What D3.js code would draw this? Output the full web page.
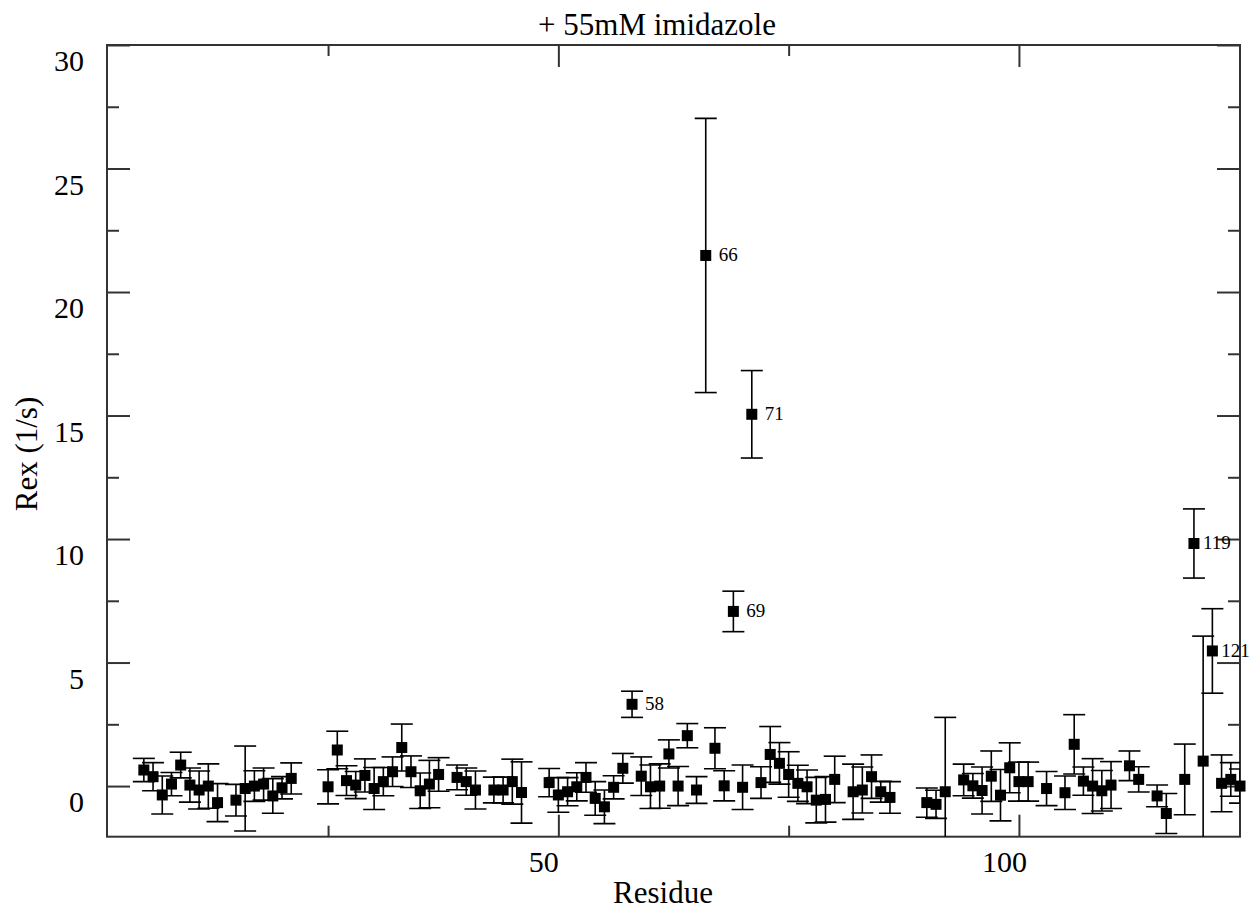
<!DOCTYPE html>
<html>
<head>
<meta charset="utf-8">
<script src="https://cdn.jsdelivr.net/npm/d3@7"></script>
<style>
  body { margin: 0; background: #fff; }
  text { font-family: "Liberation Serif", "DejaVu Serif", serif; fill: #000; }
</style>
</head>
<body>
<script>
// Rex per residue
const residues = [5, 6, 7, 8, 9, 10, 11, 12, 13, 15, 16, 17, 18, 19, 20, 21,
  25, 26, 27, 28, 29, 30, 31, 32, 33, 34, 35, 36, 37, 39, 40, 41, 43, 44, 45, 46,
  49, 50, 51, 52, 53, 54, 55, 56, 57, 58, 59, 60, 61, 62, 63, 64, 65, 66, 67, 68,
  69, 70, 71, 72, 73, 74, 75, 76, 77, 78, 79, 80, 82, 83, 84, 85, 86,
  90, 91, 92, 94, 95, 96, 97, 98, 99, 100, 101, 103, 105, 106, 107, 108, 109, 110,
  112, 113, 115, 116, 118, 119, 120, 121, 122, 123, 124];

const rex = [0.65, 0.38, -0.36, 0.08, 0.85, 0.04, -0.16, 0.0, -0.67, -0.57, -0.1, 0.0, 0.08, -0.4, -0.07, 0.31,
  -0.03, 1.46, 0.22, 0.04, 0.43, -0.1, 0.18, 0.58, 1.56, 0.58, -0.19, 0.08, 0.47, 0.35, 0.18, -0.16, -0.16, -0.16, 0.18, -0.26,
  0.14, -0.36, -0.23, -0.03, 0.35, -0.5, -0.84, -0.05, 0.72, 3.31, 0.4, -0.03, 0.0, 1.3, 0.0, 2.04, -0.16, 21.48, 1.53, 0.01,
  7.07, -0.05, 15.05, 0.14, 1.28, 0.92, 0.47, 0.11, -0.03, -0.57, -0.54, 0.27, -0.23, -0.16, 0.38, -0.23, -0.46,
  -0.67, -0.74, -0.23, 0.25, 0.01, -0.18, 0.4, -0.37, 0.74, 0.18, 0.18, -0.1, -0.27, 1.69, 0.2, 0.0, -0.19, 0.04,
  0.82, 0.27, -0.4, -1.11, 0.27, 9.82, 1.01, 5.47, 0.11, 0.27, 0.0];

const rexErr = [0.47, 0.57, 0.77, 0.47, 0.52, 0.69, 0.77, 0.9, 0.77, 0.64, 1.72, 0.62, 0.65, 0.7, 0.45, 0.63,
  0.69, 0.76, 0.6, 0.55, 0.67, 0.85, 0.57, 0.6, 0.95, 0.64, 0.72, 0.96, 0.68, 0.5, 0.55, 0.77, 0.52, 0.52, 0.91, 1.24,
  0.57, 0.7, 0.57, 0.57, 0.6, 0.68, 0.68, 0.47, 0.6, 0.53, 0.78, 0.88, 0.9, 0.57, 0.79, 0.49, 0.54, 5.55, 0.83, 0.61,
  0.82, 0.9, 1.77, 0.64, 1.13, 0.84, 0.92, 0.73, 0.68, 0.92, 0.92, 0.94, 1.12, 0.93, 0.88, 0.42, 0.64,
  0.59, 0.57, 3.01, 0.64, 0.5, 0.95, 1.02, 1.04, 1.01, 0.79, 0.79, 0.69, 0.68, 1.2, 0.57, 1.11, 0.82, 0.95,
  0.6, 0.51, 0.44, 0.81, 1.43, 1.4, 5.06, 1.71, 1.15, 0.68, 0.69];

const labelled = [58, 66, 69, 71, 119, 121];

const xMajor = [50, 100];
const xMinor = [25, 75];
const yMajor = [0, 5, 10, 15, 20, 25, 30];
const yMinor = [2.5, 7.5, 12.5, 17.5, 22.5, 27.5];

const W = 1250, H = 910;
const margin = { top: 45, right: 10, bottom: 73.3, left: 107 };
const innerW = W - margin.left - margin.right;
const innerH = H - margin.top - margin.bottom;

const data = residues.map((r, i) => ({ res: r, val: rex[i], err: rexErr[i] }));

const x = d3.scaleLinear().domain([1, 124]).range([0, innerW]);
const y = d3.scaleLinear().domain([-2.05, 30]).range([innerH, 0]);

const svg = d3.select("body").append("svg")
  .attr("width", W)
  .attr("height", H);

const g = svg.append("g").attr("transform", `translate(${margin.left},${margin.top})`);

g.append("clipPath").attr("id", "plotclip")
  .append("rect").attr("width", innerW).attr("height", innerH);

// inward ticks on all four sides
function styleAxis(sel) {
  sel.select(".domain").remove();
  sel.selectAll("line").attr("stroke", "#333").attr("stroke-width", 2);
}

g.append("g").attr("transform", `translate(0,${innerH})`)
  .call(d3.axisBottom(x).tickValues(xMinor).tickSize(-11).tickFormat(""))
  .call(styleAxis);
const xAx = g.append("g").attr("transform", `translate(0,${innerH})`)
  .call(d3.axisBottom(x).tickValues(xMajor).tickSize(-22).tickPadding(14).tickFormat(d3.format("d")))
  .call(styleAxis);
xAx.selectAll("text").attr("font-size", 30).attr("x", -15);

g.append("g")
  .call(d3.axisTop(x).tickValues(xMinor).tickSize(-11).tickFormat(""))
  .call(styleAxis);
g.append("g")
  .call(d3.axisTop(x).tickValues(xMajor).tickSize(-22).tickFormat(""))
  .call(styleAxis);

g.append("g")
  .call(d3.axisLeft(y).tickValues(yMinor).tickSize(-12).tickFormat(""))
  .call(styleAxis);
const yAx = g.append("g")
  .call(d3.axisLeft(y).tickValues(yMajor).tickSize(-23).tickPadding(23).tickFormat(d3.format("d")))
  .call(styleAxis);
yAx.selectAll("text").attr("font-size", 30).attr("y", 16);

g.append("g").attr("transform", `translate(${innerW},0)`)
  .call(d3.axisRight(y).tickValues(yMinor).tickSize(-12).tickFormat(""))
  .call(styleAxis);
g.append("g").attr("transform", `translate(${innerW},0)`)
  .call(d3.axisRight(y).tickValues(yMajor).tickSize(-23).tickFormat(""))
  .call(styleAxis);

g.append("rect")
  .attr("width", innerW).attr("height", innerH)
  .attr("fill", "none").attr("stroke", "#333").attr("stroke-width", 2);

// error bars
const bars = g.append("g").attr("clip-path", "url(#plotclip)")
  .attr("stroke", "#000").attr("stroke-width", 1.6);
const capW = 11;
data.forEach(d => {
  const cx = x(d.res);
  const y0 = y(d.val - d.err), y1 = y(d.val + d.err);
  bars.append("line").attr("x1", cx).attr("x2", cx).attr("y1", y0).attr("y2", y1);
  bars.append("line").attr("x1", cx - capW).attr("x2", cx + capW).attr("y1", y0).attr("y2", y0);
  bars.append("line").attr("x1", cx - capW).attr("x2", cx + capW).attr("y1", y1).attr("y2", y1);
});

// markers
const sq = 11;
g.append("g").selectAll("rect")
  .data(data)
  .join("rect")
  .attr("x", d => x(d.res) - sq / 2)
  .attr("y", d => y(d.val) - sq / 2)
  .attr("width", sq).attr("height", sq)
  .attr("fill", "#000");

// residue labels on the outliers
g.append("g").selectAll("text")
  .data(data.filter(d => labelled.includes(d.res)))
  .join("text")
  .attr("x", d => x(d.res) + (d.res > 100 ? 9 : 13))
  .attr("y", d => y(d.val) + 6)
  .attr("font-size", 19)
  .text(d => d.res);

// titles
svg.append("text")
  .attr("x", 657).attr("y", 35)
  .attr("text-anchor", "middle")
  .attr("font-size", 31)
  .text("+ 55mM imidazole");

svg.append("text")
  .attr("x", 663).attr("y", 903)
  .attr("text-anchor", "middle")
  .attr("font-size", 31)
  .text("Residue");

svg.append("text")
  .attr("transform", "translate(37,454) rotate(-90)")
  .attr("text-anchor", "middle")
  .attr("font-size", 31)
  .text("Rex (1/s)");
</script>
</body>
</html>
